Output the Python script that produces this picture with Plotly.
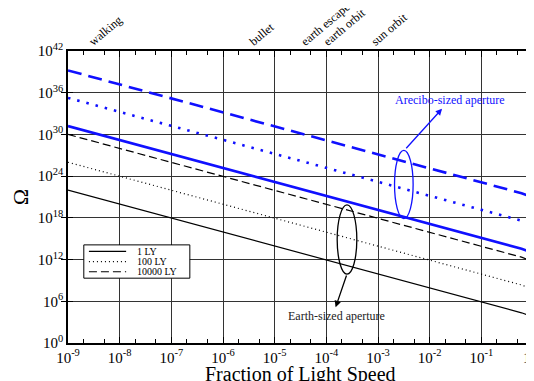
import plotly.graph_objects as go

# ---------------- data ----------------
speed_fraction = [1e-9, 1e-8, 1e-7, 1e-6, 1e-5, 1e-4, 1e-3, 1e-2, 1e-1,
                  0.2, 0.4, 0.6, 0.8, 0.9, 0.95, 0.99]

earth_1ly = [1e22, 1e20, 1e18, 1e16, 1e14, 1e12, 1e10, 1e8, 1e6,
             2.4e5, 5.6e4, 2.2e4, 1.0e4, 6.3e3, 4.5e3, 2.5e3]
earth_100ly = [1e26, 1e24, 1e22, 1e20, 1e18, 1e16, 1e14, 1e12, 1e10,
               2.4e9, 5.6e8, 2.2e8, 1.0e8, 6.3e7, 4.5e7, 2.5e7]
earth_10000ly = [1e30, 1e28, 1e26, 1e24, 1e22, 1e20, 1e18, 1e16, 1e14,
                 2.4e13, 5.6e12, 2.2e12, 1.0e12, 6.3e11, 4.5e11, 2.5e11]

arecibo_1ly = [1.6e31, 1.6e29, 1.6e27, 1.6e25, 1.6e23, 1.6e21, 1.6e19, 1.6e17, 1.6e15,
               3.8e14, 8.9e13, 3.5e13, 1.6e13, 1.0e13, 7.1e12, 4.0e12]
arecibo_100ly = [1.8e35, 1.8e33, 1.8e31, 1.8e29, 1.8e27, 1.8e25, 1.8e23, 1.8e21, 1.8e19,
                 4.2e18, 1.0e18, 3.9e17, 1.8e17, 1.1e17, 7.9e16, 4.5e16]
arecibo_10000ly = [1.6e39, 1.6e37, 1.6e35, 1.6e33, 1.6e31, 1.6e29, 1.6e27, 1.6e25, 1.6e23,
                   3.8e22, 8.9e21, 3.5e21, 1.6e21, 1.0e21, 7.1e20, 4.0e20]

x_tickvals = [1e-9, 1e-8, 1e-7, 1e-6, 1e-5, 1e-4, 1e-3, 1e-2, 1e-1, 1]
x_ticktext = ["10<sup>-9</sup>", "10<sup>-8</sup>", "10<sup>-7</sup>", "10<sup>-6</sup>",
              "10<sup>-5</sup>", "10<sup>-4</sup>", "10<sup>-3</sup>", "10<sup>-2</sup>",
              "10<sup>-1</sup>", "10<sup>0</sup>"]
y_tickvals = [1, 1e6, 1e12, 1e18, 1e24, 1e30, 1e36, 1e42]
y_ticktext = ["10<sup>0</sup>", "10<sup>6</sup>", "10<sup>12</sup>", "10<sup>18</sup>",
              "10<sup>24</sup>", "10<sup>30</sup>", "10<sup>36</sup>", "10<sup>42</sup>"]

ref_speeds = [2.6e-9, 3.3e-6, 3.3e-5, 9.0e-5, 7.5e-4]
ref_labels = ["walking", "bullet", "earth escape", "earth orbit", "sun orbit"]

legend_labels = ["1 LY", "100 LY", "10000 LY"]

# ---------------- figure ----------------
FONT = "Liberation Serif"
BLUE = "#1010ff"
GRID = "#333333"

fig = go.Figure()

black_styles = [dict(color="black", width=1.2, dash="solid"),
                dict(color="black", width=1.2, dash="1px,3px"),
                dict(color="black", width=1.2, dash="8px,4px")]
blue_styles = [dict(color=BLUE, width=2.6, dash="solid"),
               dict(color=BLUE, width=2.6, dash="2.5px,7px"),
               dict(color=BLUE, width=2.6, dash="14px,7px")]

for ys, st, nm in zip([earth_1ly, earth_100ly, earth_10000ly], black_styles, legend_labels):
    fig.add_trace(go.Scatter(x=speed_fraction, y=ys, mode="lines", line=st,
                             name=nm, showlegend=False))
# Arecibo curves drawn against the (matching) top axis so it is rendered
for ys, st, nm in zip([arecibo_1ly, arecibo_100ly, arecibo_10000ly], blue_styles, legend_labels):
    fig.add_trace(go.Scatter(x=speed_fraction, y=ys, mode="lines", line=st, xaxis="x2",
                             name="Arecibo " + nm, showlegend=False))

axis_common = dict(showline=True, linecolor="black", linewidth=1.5, mirror="allticks",
                   gridcolor=GRID, gridwidth=1, zeroline=False, automargin=False,
                   ticklabeloverflow="allow",
                   tickfont=dict(family=FONT, size=15, color="black"))

fig.update_layout(
    xaxis=dict(type="log", range=[-9, 0], tickvals=x_tickvals, ticktext=x_ticktext,
               ticks="inside", ticklen=6, tickcolor="black",
               minor=dict(ticks="inside", ticklen=4, tickcolor="black", showgrid=False),
               **axis_common),
    yaxis=dict(type="log", range=[0, 42], tickvals=y_tickvals, ticktext=y_ticktext,
               ticks="inside", ticklen=5, tickcolor="black",
               title=dict(text="Ω", font=dict(family=FONT, size=22, color="black"), standoff=6),
               **axis_common),
    xaxis2=dict(type="log", range=[-9, 0], overlaying="x", side="top", anchor="y",
                matches="x", automargin=False, ticklabeloverflow="allow",
                tickvals=ref_speeds, ticktext=ref_labels, tickangle=-40,
                ticks="", showgrid=False, showline=False, zeroline=False,
                tickfont=dict(family=FONT, size=12, color="black")),
)

# x-axis title
fig.add_annotation(xref="paper", yref="paper", x=0.5, y=-0.15, yanchor="bottom",
                   text="Fraction of Light Speed", showarrow=False, borderpad=0,
                   font=dict(family=FONT, size=20, color="black"))

# legend drawn manually (compact box)
lx0, lx1 = 0.034, 0.262
ly0, ly1 = 0.222, 0.336
fig.add_shape(type="rect", xref="paper", yref="paper", x0=lx0, x1=lx1, y0=ly0, y1=ly1,
              line=dict(color="black", width=1), fillcolor="white", layer="above")
row_y = [0.314, 0.279, 0.244]
for yy, st, nm in zip(row_y, black_styles, legend_labels):
    fig.add_shape(type="line", xref="paper", yref="paper", x0=0.045, x1=0.125, y0=yy, y1=yy,
                  line=dict(color="black", width=1.2, dash=st["dash"]), layer="above")
    fig.add_annotation(xref="paper", yref="paper", x=0.146, y=yy, text=nm, showarrow=False,
                       xanchor="left", yanchor="middle", borderpad=0,
                       font=dict(family=FONT, size=10, color="black"))

# ellipses around line groups
fig.add_shape(type="circle", xref="x", yref="y",
              x0=10**-2.68, x1=10**-2.32, y0=10**17.9, y1=10**27.7,
              line=dict(color=BLUE, width=1.3))
fig.add_shape(type="circle", xref="x", yref="y",
              x0=10**-3.79, x1=10**-3.41, y0=10**9.9, y1=10**19.86,
              line=dict(color="black", width=1.3))

# arrows + labels
fig.add_annotation(x=-1.76, y=33.7, ax=-2.48, ay=27.8, xref="x", yref="y", axref="x", ayref="y",
                   text="", showarrow=True, arrowhead=2, arrowsize=1, arrowwidth=1.3, arrowcolor=BLUE)
fig.add_annotation(x=-1.61, y=35.0, xref="x", yref="y", text="Arecibo-sized aperture",
                   showarrow=False, font=dict(family=FONT, size=12, color=BLUE))
fig.add_annotation(x=-3.82, y=5.14, ax=-3.6, ay=9.93, xref="x", yref="y", axref="x", ayref="y",
                   text="", showarrow=True, arrowhead=2, arrowsize=1, arrowwidth=1.3, arrowcolor="black")
fig.add_annotation(x=-3.81, y=3.9, xref="x", yref="y", text="Earth-sized aperture",
                   showarrow=False, font=dict(family=FONT, size=12, color="#222222"))

fig.update_layout(width=534, height=381, margin=dict(l=60, r=9, t=43, b=46, autoexpand=False),
                  paper_bgcolor="white", plot_bgcolor="white", showlegend=False,
                  font=dict(family=FONT, color="black"))

fig.write_html("out.html")
